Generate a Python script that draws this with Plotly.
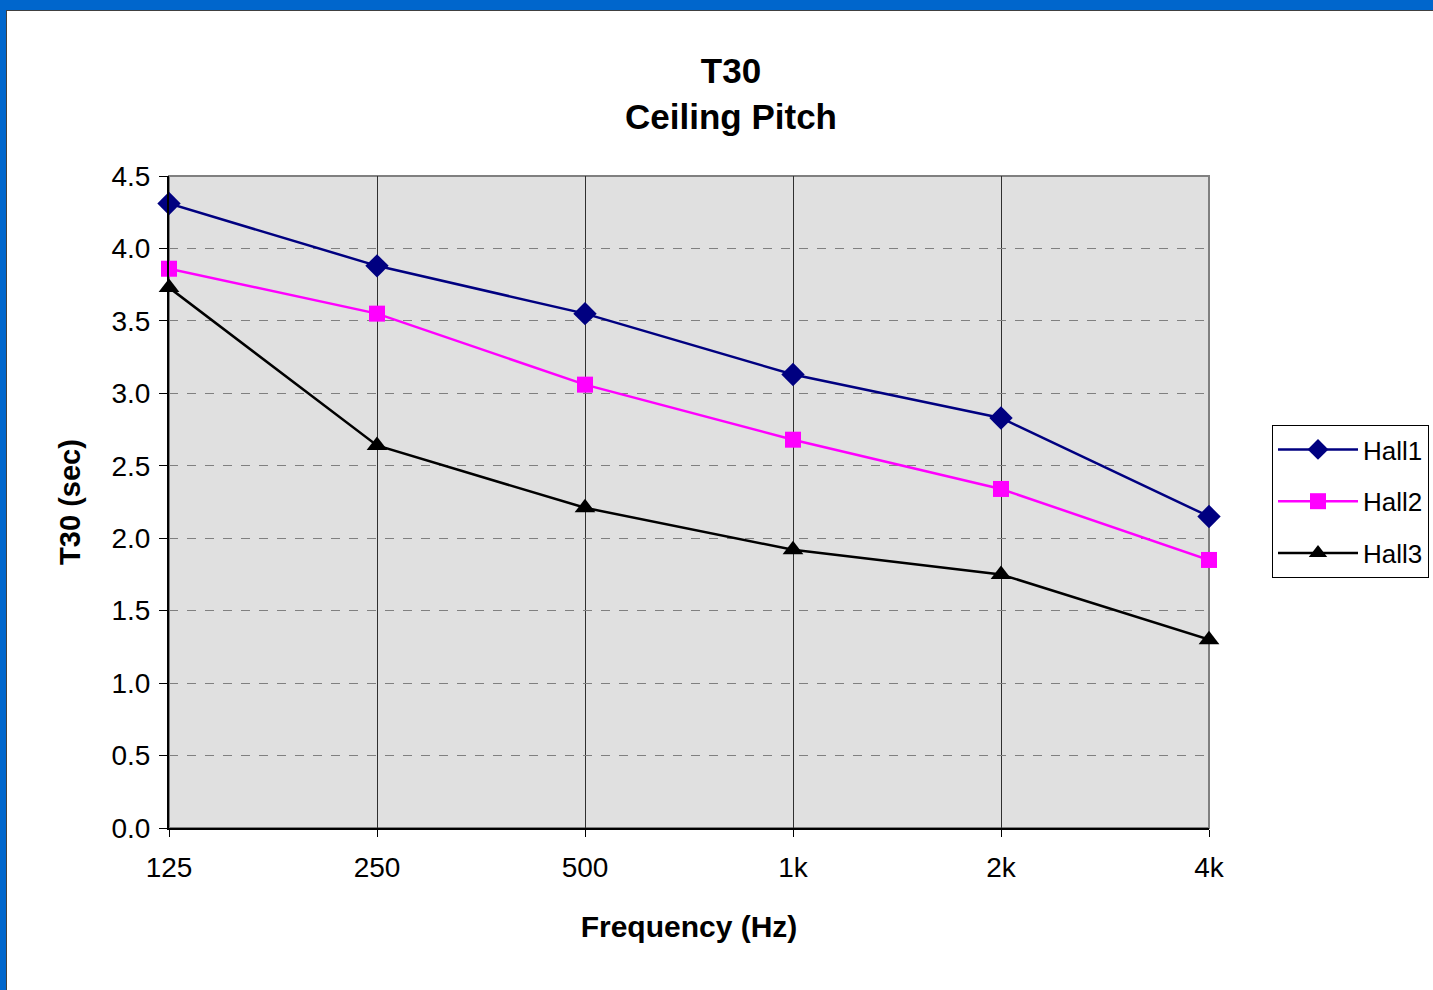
import plotly.graph_objects as go

categories = ["125", "250", "500", "1k", "2k", "4k"]
hall1 = [4.31, 3.88, 3.55, 3.13, 2.83, 2.15]
hall2 = [3.86, 3.55, 3.06, 2.68, 2.34, 1.85]
hall3 = [3.73, 2.64, 2.21, 1.92, 1.75, 1.30]
y_ticks = [0.0, 0.5, 1.0, 1.5, 2.0, 2.5, 3.0, 3.5, 4.0, 4.5]

W, H = 1433, 990
L, R, T, B = 169, 1209, 176, 828
FONT = "Liberation Sans"

xs = list(range(len(categories)))

fig = go.Figure()
series = [
    ("Hall1", hall1, "#000080", "diamond", 18),
    ("Hall2", hall2, "#FF00FF", "square", 16),
    ("Hall3", hall3, "#000000", "triangle-up", 18),
]
for name, vals, col, sym, sz in series:
    fig.add_trace(go.Scatter(
        x=xs, y=vals, name=name, mode="lines+markers",
        legendgroup=name,
        line=dict(color=col, width=2.5),
        marker=dict(symbol=sym, size=sz, color=col, line=dict(width=0)),
        cliponaxis=False,
    ))

def px_x(p):
    return (p - L) / (R - L)

def px_y(p):
    return (B - p) / (B - T)

shapes = [
    dict(type="rect", xref="paper", yref="paper", x0=0, x1=1, y0=0, y1=1,
         line=dict(color="#808080", width=2), layer="below"),
    dict(type="rect", xref="paper", yref="paper", x0=px_x(0), x1=px_x(W),
         y0=px_y(10), y1=px_y(0), fillcolor="#0066CC", line=dict(width=0)),
    dict(type="line", xref="paper", yref="paper", x0=px_x(6), x1=px_x(W),
         y0=px_y(10.5), y1=px_y(10.5), line=dict(color="#404040", width=1)),
    dict(type="rect", xref="paper", yref="paper", x0=px_x(0), x1=px_x(6),
         y0=px_y(H), y1=px_y(0), fillcolor="#0066CC", line=dict(width=0)),
    dict(type="line", xref="paper", yref="paper", x0=px_x(6.5), x1=px_x(6.5),
         y0=px_y(H), y1=px_y(10), line=dict(color="#404040", width=1)),
]

fig.update_layout(
    width=W, height=H,
    margin=dict(l=L, r=W - R, t=T, b=H - B, autoexpand=False),
    paper_bgcolor="white",
    plot_bgcolor="#E0E0E0",
    font=dict(family=FONT, size=28, color="black"),
    title=dict(
        text="<b>T30</b><br><b>Ceiling Pitch</b>",
        x=731 / W, xanchor="center", y=1 - 83 / H, yanchor="middle",
        font=dict(family=FONT, size=35, color="black"),
    ),
    xaxis=dict(
        range=[0, 5], tickvals=xs, ticktext=categories,
        showgrid=True, gridcolor="#303030", gridwidth=1,
        showline=True, linecolor="black", linewidth=2,
        ticks="outside", ticklen=7, tickcolor="black", tickwidth=1,
        tickfont=dict(family=FONT, size=28), ticklabelstandoff=6,
        title=dict(text="<b>Frequency (Hz)</b>", font=dict(family=FONT, size=30), standoff=34),
        zeroline=False,
    ),
    yaxis=dict(
        range=[0, 4.5], tickvals=y_ticks, tickformat=".1f",
        showgrid=True, gridcolor="#808080", gridwidth=1, griddash="dash",
        showline=True, linecolor="black", linewidth=2,
        ticks="outside", ticklen=8, tickcolor="black", tickwidth=1,
        tickfont=dict(family=FONT, size=28), ticklabelstandoff=3,
        title=dict(text="<b>T30 (sec)</b>", font=dict(family=FONT, size=29), standoff=22),
        zeroline=False,
    ),
    legend=dict(
        x=px_x(1272), xanchor="left", y=px_y(425), yanchor="top",
        bordercolor="black", borderwidth=1, bgcolor="white",
        font=dict(family=FONT, size=26), traceorder="grouped", tracegroupgap=15,
        itemwidth=80,
    ),
    shapes=shapes,
    showlegend=True,
)

fig.write_html("out.html")
